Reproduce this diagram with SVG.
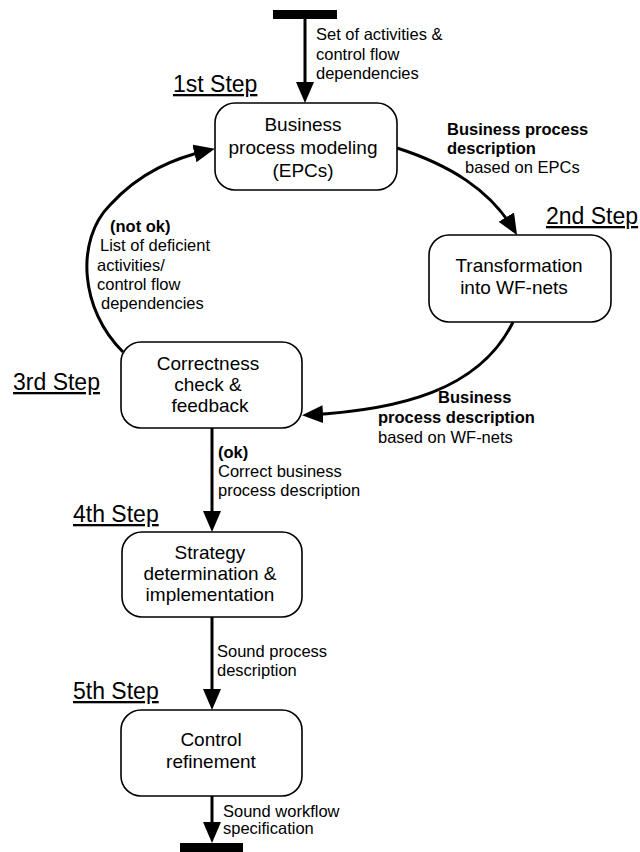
<svg xmlns="http://www.w3.org/2000/svg" width="640" height="852" viewBox="0 0 640 852">
  <style>
    .box { fill: #ffffff; stroke: #000000; stroke-width: 1.6; }
    .bar { fill: #000000; }
    .conn { fill: none; stroke: #000000; stroke-width: 3; }
    .node-text { font-family: "Liberation Sans", Arial, sans-serif; font-size: 19px; fill: #000000; text-anchor: middle; }
    .label { font-family: "Liberation Sans", Arial, sans-serif; font-size: 16.5px; fill: #000000; }
    .label .b { font-weight: bold; }
    .step { font-family: "Liberation Sans", Arial, sans-serif; font-size: 23px; fill: #000000; text-decoration: underline; }
  </style>
  <defs>
    <marker id="arrow" viewBox="0 0 21 18" markerWidth="21" markerHeight="18" refX="15" refY="9" orient="auto" markerUnits="userSpaceOnUse">
      <path d="M0,0 L21,9 L0,18 z" fill="#000000"/>
    </marker>
  </defs>

  <rect fill="#ffffff" x="0" y="0" width="640" height="852"/>

  <!-- start and end bars -->
  <rect id="start-bar" class="bar" x="273" y="10" width="64" height="9"/>
  <rect id="end-bar" class="bar" x="180" y="843" width="63" height="9"/>

  <!-- connectors -->
  <g id="connectors">
    <path class="conn" d="M305,19 L305,97" marker-end="url(#arrow)"/>
    <path class="conn" d="M397,148 C450,165 490,190 514,230" marker-end="url(#arrow)"/>
    <path class="conn" d="M513,322 C480,390 400,410 308,415" marker-end="url(#arrow)"/>
    <path class="conn" d="M123,352 C80,310 75,240 110,205 C140,172 175,158 209,150" marker-end="url(#arrow)"/>
    <path class="conn" d="M212,428 L212,526" marker-end="url(#arrow)"/>
    <path class="conn" d="M212,617 L212,704" marker-end="url(#arrow)"/>
    <path class="conn" d="M212,796 L212,837" marker-end="url(#arrow)"/>
  </g>

  <!-- connector labels -->
  <g id="connector-labels" class="label">
    <text x="316" y="40">Set of activities &amp;</text>
    <text x="316" y="60">control flow</text>
    <text x="316" y="79">dependencies</text>

    <text x="447" y="135" class="b">Business process</text>
    <text x="447" y="154" class="b">description</text>
    <text x="465" y="173">based on EPCs</text>

    <text x="438" y="403" class="b">Business</text>
    <text x="378" y="423" class="b">process description</text>
    <text x="378" y="443">based on WF-nets</text>

    <text x="110" y="232" class="b">(not ok)</text>
    <text x="100" y="251">List of deficient</text>
    <text x="97" y="271">activities/</text>
    <text x="97" y="290">control flow</text>
    <text x="101" y="309">dependencies</text>

    <text x="218" y="458" class="b">(ok)</text>
    <text x="218" y="477">Correct business</text>
    <text x="218" y="496">process description</text>

    <text x="217" y="657">Sound process</text>
    <text x="217" y="676">description</text>

    <text x="223" y="817">Sound workflow</text>
    <text x="223" y="834">specification</text>
  </g>

  <!-- step headings -->
  <g id="steps" class="step">
    <text x="173" y="92">1st Step</text>
    <text x="546" y="224">2nd Step</text>
    <text x="13" y="390">3rd Step</text>
    <text x="73" y="522">4th Step</text>
    <text x="73" y="699">5th Step</text>
  </g>

  <!-- process steps -->
  <g id="node-modeling">
    <rect class="box" x="215" y="103" width="182" height="87" rx="20" ry="20"/>
    <text class="node-text" x="303" y="131">Business</text>
    <text class="node-text" x="303" y="154">process modeling</text>
    <text class="node-text" x="303" y="177">(EPCs)</text>
  </g>

  <g id="node-transformation">
    <rect class="box" x="429" y="235" width="182" height="87" rx="20" ry="20"/>
    <text class="node-text" x="519" y="272">Transformation</text>
    <text class="node-text" x="514" y="294">into WF-nets</text>
  </g>

  <g id="node-correctness">
    <rect class="box" x="121" y="342" width="181" height="86" rx="20" ry="20"/>
    <text class="node-text" x="208" y="370">Correctness</text>
    <text class="node-text" x="208" y="391">check &amp;</text>
    <text class="node-text" x="210" y="412">feedback</text>
  </g>

  <g id="node-strategy">
    <rect class="box" x="122" y="532" width="180" height="85" rx="20" ry="20"/>
    <text class="node-text" x="210" y="559">Strategy</text>
    <text class="node-text" x="210" y="580">determination &amp;</text>
    <text class="node-text" x="210" y="601">implementation</text>
  </g>

  <g id="node-refinement">
    <rect class="box" x="121" y="710" width="181" height="86" rx="20" ry="20"/>
    <text class="node-text" x="211" y="746">Control</text>
    <text class="node-text" x="211" y="768">refinement</text>
  </g>
</svg>
